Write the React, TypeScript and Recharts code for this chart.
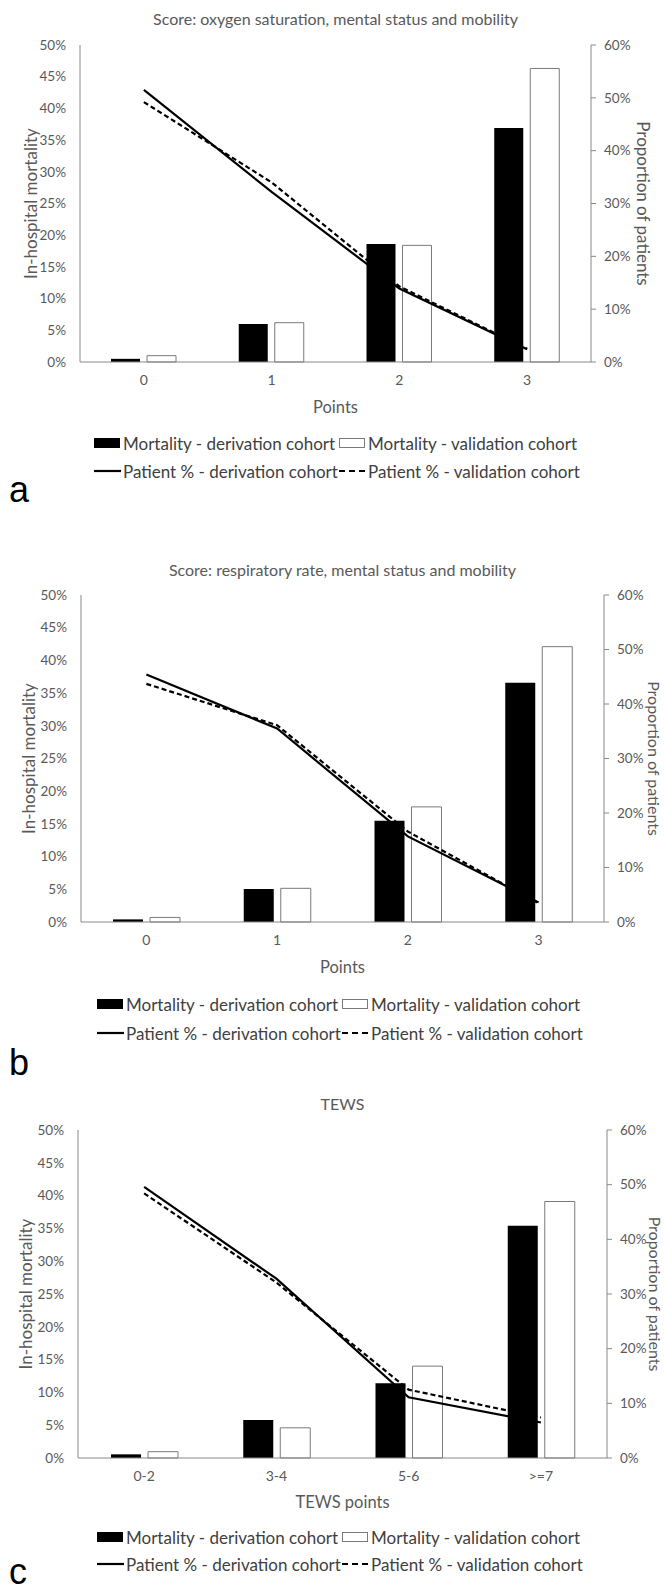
import React from "react";
import { Bar, ComposedChart, Line, XAxis, YAxis } from "recharts";

// categories
const pointCats = ["0", "1", "2", "3"];
const tewsCats = ["0-2", "3-4", "5-6", ">=7"];

// a: oxygen saturation, mental status and mobility
const mortDerivA = [0.5, 6.0, 18.6, 36.9];
const mortValidA = [1.0, 6.2, 18.4, 46.3];
const patDerivA = [51.5, 32.2, 13.9, 2.4];
const patValidA = [49.2, 34.0, 14.3, 2.5];

// b: respiratory rate, mental status and mobility
const mortDerivB = [0.4, 5.05, 15.5, 36.6];
const mortValidB = [0.7, 5.15, 17.6, 42.1];
const patDerivB = [45.4, 35.5, 15.7, 3.6];
const patValidB = [43.7, 36.1, 16.6, 3.4];

// c: TEWS
const mortDerivC = [0.56, 5.8, 11.4, 35.4];
const mortValidC = [0.96, 4.6, 14.0, 39.1];
const patDerivC = [49.6, 32.8, 11.1, 6.5];
const patValidC = [48.4, 32.1, 12.5, 7.4];

const leftTicks = [0, 5, 10, 15, 20, 25, 30, 35, 40, 45, 50];
const rightTicks = [0, 10, 20, 30, 40, 50, 60];

const LEGEND = [
  "Mortality - derivation cohort",
  "Mortality - validation cohort",
  "Patient % - derivation cohort",
  "Patient % - validation cohort",
];

const AXIS = "#898989";
const TXT = "#595959";
const FONT = "Lato, 'Open Sans', sans-serif";
const W = 664;

const toRows = (cats: string[], md: number[], mv: number[], pd: number[], pv: number[]) =>
  cats.map((cat, i) => ({ cat, md: md[i], mv: mv[i], pd: pd[i], pv: pv[i] }));

type PanelProps = {
  rows: ReturnType<typeof toRows>;
  top: number;
  plotTop: number;
  plotBottom: number;
  left: number;
  right: number;
  barSize: number;
};

function Panel({ rows, top, plotTop, plotBottom, left, right, barSize }: PanelProps) {
  const tick = { fontSize: 13.5, fill: TXT, fontFamily: FONT };
  return (
    <div style={{ position: "absolute", left: 0, top }}>
      <ComposedChart
        width={W}
        height={plotBottom - top + 30}
        data={rows}
        margin={{ top: plotTop - top, right: 0, bottom: 0, left: 0 }}
        barSize={barSize}
        barGap={7}
      >
        <XAxis
          dataKey="cat"
          height={30}
          interval={0}
          tickLine={false}
          tickSize={0}
          tickMargin={13}
          axisLine={{ stroke: AXIS }}
          tick={{ ...tick, fontSize: 14 }}
        />
        <YAxis
          yAxisId="left"
          orientation="left"
          width={left}
          domain={[0, 50]}
          ticks={leftTicks}
          interval={0}
          tickFormatter={(v) => `${v}%`}
          tickLine={false}
          tickSize={0}
          tickMargin={14}
          axisLine={{ stroke: AXIS }}
          tick={tick}
        />
        <YAxis
          yAxisId="right"
          orientation="right"
          width={W - right}
          domain={[0, 60]}
          ticks={rightTicks}
          interval={0}
          tickFormatter={(v) => `${v}%`}
          tickSize={5}
          tickMargin={8}
          tickLine={{ stroke: AXIS }}
          axisLine={{ stroke: AXIS }}
          tick={tick}
        />
        <Bar yAxisId="left" dataKey="md" fill="#000" isAnimationActive={false} />
        <Bar yAxisId="left" dataKey="mv" fill="#fff" stroke="#7a7a7a" strokeWidth={1} isAnimationActive={false} />
        <Line
          yAxisId="right"
          type="linear"
          dataKey="pd"
          stroke="#000"
          strokeWidth={2.2}
          dot={false}
          activeDot={false}
          isAnimationActive={false}
        />
        <Line
          yAxisId="right"
          type="linear"
          dataKey="pv"
          stroke="#000"
          strokeWidth={2.2}
          strokeDasharray="5 3"
          dot={false}
          activeDot={false}
          isAnimationActive={false}
        />
      </ComposedChart>
    </div>
  );
}

type Labels = {
  title: string;
  titleY: number;
  xTitle: string;
  xTitleY: number;
  plotTop: number;
  plotBottom: number;
  left: number;
  right: number;
  leftTitleX: number;
  rightTitleX: number;
  rightTitleSize: number;
  legendX: number;
  legendY: number[];
  letter: string;
  letterY: number;
};

function PanelText(p: Labels) {
  const cx = (p.left + p.right) / 2;
  const cy = (p.plotTop + p.plotBottom) / 2;
  const col2 = p.legendX + 245;
  const ts = { fontFamily: FONT, fill: TXT };
  const lg = { fontFamily: FONT, fill: "#404040", fontSize: 17 };
  return (
    <g>
      <text x={cx} y={p.titleY} textAnchor="middle" dominantBaseline="central" fontSize={16} {...ts}>
        {p.title}
      </text>
      <text x={cx} y={p.xTitleY} textAnchor="middle" dominantBaseline="central" fontSize={16.5} {...ts}>
        {p.xTitle}
      </text>
      <text
        x={p.leftTitleX}
        y={cy}
        textAnchor="middle"
        dominantBaseline="central"
        fontSize={17}
        transform={`rotate(-90 ${p.leftTitleX} ${cy})`}
        {...ts}
      >
        In-hospital mortality
      </text>
      <text
        x={p.rightTitleX}
        y={cy}
        textAnchor="middle"
        dominantBaseline="central"
        fontSize={p.rightTitleSize}
        transform={`rotate(90 ${p.rightTitleX} ${cy})`}
        {...ts}
      >
        Proportion of patients
      </text>
      {/* legend */}
      <rect x={p.legendX} y={p.legendY[0] - 5} width={26} height={10} fill="#000" />
      <text x={p.legendX + 29} y={p.legendY[0]} dominantBaseline="central" {...lg}>
        {LEGEND[0]}
      </text>
      <rect x={col2 + 0.5} y={p.legendY[0] - 4.5} width={25} height={9} fill="#fff" stroke="#7a7a7a" />
      <text x={col2 + 29} y={p.legendY[0]} dominantBaseline="central" {...lg}>
        {LEGEND[1]}
      </text>
      <line x1={p.legendX} x2={p.legendX + 27} y1={p.legendY[1]} y2={p.legendY[1]} stroke="#000" strokeWidth={2.2} />
      <text x={p.legendX + 29} y={p.legendY[1]} dominantBaseline="central" {...lg}>
        {LEGEND[2]}
      </text>
      <line
        x1={col2}
        x2={col2 + 27}
        y1={p.legendY[1]}
        y2={p.legendY[1]}
        stroke="#000"
        strokeWidth={2.2}
        strokeDasharray="6 4"
      />
      <text x={col2 + 29} y={p.legendY[1]} dominantBaseline="central" {...lg}>
        {LEGEND[3]}
      </text>
      <text x={9} y={p.letterY} fontSize={36} fontFamily="'Liberation Sans', Arial, sans-serif" fill="#000">
        {p.letter}
      </text>
    </g>
  );
}

export default function App() {
  return (
    <div style={{ position: "absolute", left: 0, top: 0, width: W, height: 1591, background: "#fff", overflow: "hidden" }}>
      <Panel
        rows={toRows(pointCats, mortDerivA, mortValidA, patDerivA, patValidA)}
        top={0}
        plotTop={45}
        plotBottom={362}
        left={80}
        right={591}
        barSize={29}
      />
      <Panel
        rows={toRows(pointCats, mortDerivB, mortValidB, patDerivB, patValidB)}
        top={550}
        plotTop={595}
        plotBottom={922}
        left={81}
        right={604}
        barSize={30}
      />
      <Panel
        rows={toRows(tewsCats, mortDerivC, mortValidC, patDerivC, patValidC)}
        top={1085}
        plotTop={1130}
        plotBottom={1458}
        left={78}
        right={607}
        barSize={30}
      />
      <svg width={W} height={1591} style={{ position: "absolute", left: 0, top: 0, pointerEvents: "none" }}>
        <PanelText
          title="Score: oxygen saturation, mental status and mobility"
          titleY={18}
          xTitle="Points"
          xTitleY={407}
          plotTop={45}
          plotBottom={362}
          left={80}
          right={591}
          leftTitleX={30}
          rightTitleX={643}
          rightTitleSize={17}
          legendX={94}
          legendY={[443, 471]}
          letter="a"
          letterY={502}
        />
        <PanelText
          title="Score: respiratory rate, mental status and mobility"
          titleY={569}
          xTitle="Points"
          xTitleY={967}
          plotTop={595}
          plotBottom={922}
          left={81}
          right={604}
          leftTitleX={28}
          rightTitleX={654}
          rightTitleSize={16}
          legendX={97}
          legendY={[1004, 1033]}
          letter="b"
          letterY={1075}
        />
        <PanelText
          title="TEWS"
          titleY={1103}
          xTitle="TEWS points"
          xTitleY={1502}
          plotTop={1130}
          plotBottom={1458}
          left={78}
          right={607}
          leftTitleX={25}
          rightTitleX={655}
          rightTitleSize={16}
          legendX={97}
          legendY={[1537, 1564]}
          letter="c"
          letterY={1584}
        />
      </svg>
    </div>
  );
}
